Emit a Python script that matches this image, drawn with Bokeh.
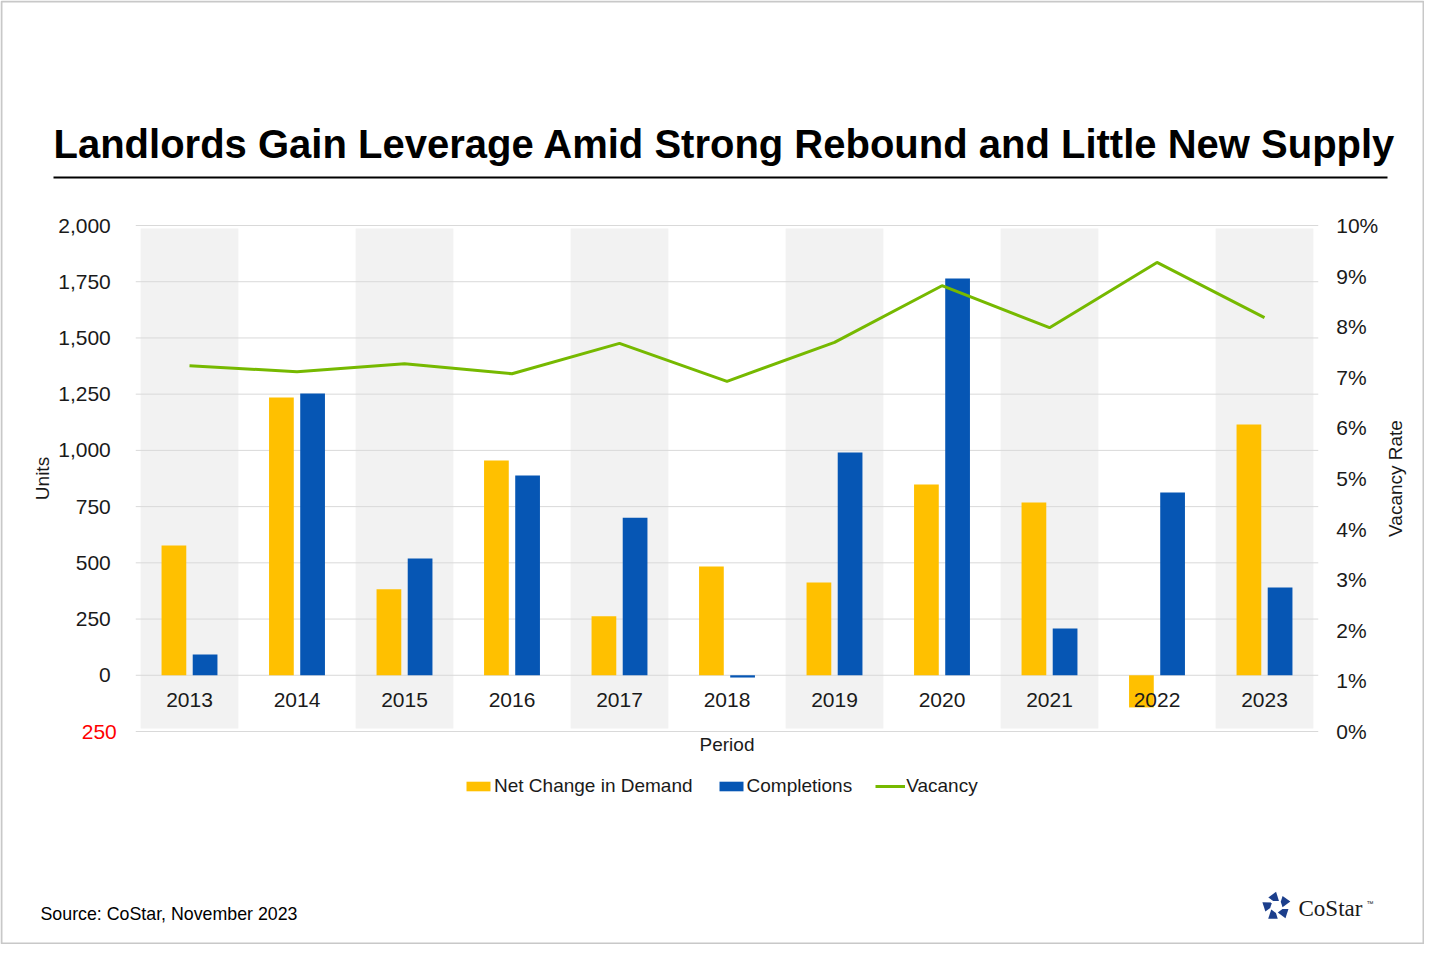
import math
from bokeh.plotting import figure
from bokeh.models import Range1d, Legend, LegendItem
from bokeh.transform import dodge
from bokeh.core.properties import value
from bokeh.embed import file_html
from bokeh.resources import INLINE

# ---------------- data ----------------
years = ["2013", "2014", "2015", "2016", "2017", "2018", "2019", "2020", "2021", "2022", "2023"]
net_demand = [577, 1235, 382, 955, 262, 484, 412, 848, 768, -143, 1115]
completions = [92, 1253, 519, 888, 701, -10, 991, 1764, 208, 813, 390]
vacancy = [7.23, 7.11, 7.27, 7.07, 7.67, 6.92, 7.69, 8.81, 7.98, 9.27, 8.18]
units_ticks = [-250, 0, 250, 500, 750, 1000, 1250, 1500, 1750, 2000]
units_tick_labels = ["250", "0", "250", "500", "750", "1,000", "1,250", "1,500", "1,750", "2,000"]
units_tick_colors = ["#ff0000"] + ["#1a1a1a"] * 9
rate_ticks = [0, 1, 2, 3, 4, 5, 6, 7, 8, 9, 10]
rate_tick_labels = ["0%", "1%", "2%", "3%", "4%", "5%", "6%", "7%", "8%", "9%", "10%"]

title_text = "Landlords Gain Leverage Amid Strong Rebound and Little New Supply"
source_text = "Source: CoStar, November 2023"
logo_text = "CoStar"
x_title, y_title, y2_title = "Period", "Units", "Vacancy Rate"

FONT = "Liberation Sans"
YELLOW = "#FFC000"
BLUE = "#0656B4"
GREEN = "#76B900"
TXT = "#1a1a1a"

# ---------------- layout (page pixels) ----------------
W, H = 1424, 944
PL, PR, PT, PB = 135.25, 1317.75, 225, 731      # chart box
U_LO, U_HI = -250, 2000
V_LO, V_HI = 0, 10
n = len(years)
cat_w = (PR - PL) / n
upp = (U_HI - U_LO) / (PB - PT)        # units per pixel
vpp = (V_HI - V_LO) / (PB - PT)

p = figure(width=W, height=H, x_range=Range1d(0, W), y_range=Range1d(H, 0),
           output_backend="svg", toolbar_location=None, min_border=0,
           x_axis_location=None, y_axis_location=None, title=None)
p.outline_line_color = None
p.grid.visible = False
p.background_fill_color = "white"
p.border_fill_color = "white"

# chart scales mapped onto the chart box
p.extra_x_ranges = {"cat": Range1d(-(PL / cat_w) - 0.5, (W - PL) / cat_w - 0.5)}
p.extra_y_ranges = {
    "units": Range1d(U_LO - (H - PB) * upp, U_HI + PT * upp),
    "vac": Range1d(V_LO - (H - PB) * vpp, V_HI + PT * vpp),
}
pos = list(range(n))
shaded_pos = pos[0::2]

# alternating shaded columns
p.vbar(x=shaded_pos, top=U_HI - 3 * upp, bottom=U_LO + 3 * upp, width=0.91,
       x_range_name="cat", y_range_name="units", fill_color="#f2f2f2", line_color=None)

# horizontal grid lines
p.segment(x0=-0.5, x1=n - 0.5, y0=units_ticks, y1=units_ticks, x_range_name="cat",
          y_range_name="units", line_color="#d9d9d9", line_width=1)

r_dem = p.vbar(x=dodge("x", -0.145), top="top", width=0.23, source=dict(x=pos, top=net_demand),
               x_range_name="cat", y_range_name="units", fill_color=YELLOW, line_color=None)
r_comp = p.vbar(x=dodge("x", 0.145), top="top", width=0.23, source=dict(x=pos, top=completions),
                x_range_name="cat", y_range_name="units", fill_color=BLUE, line_color=None)
r_vac = p.line(x=pos, y=vacancy, x_range_name="cat", y_range_name="vac",
               line_color=GREEN, line_width=3)

# category labels just under the zero line
p.text(x=pos, y=-108, text=years, x_range_name="cat", y_range_name="units",
       text_align="center", text_baseline="middle", text_font=value(FONT),
       text_font_size="21px", text_color=TXT)

# left tick labels
p.text(x=[PL - 25] * len(units_ticks), y=units_ticks, text=units_tick_labels,
       y_range_name="units", text_align="right", text_baseline="middle",
       text_font=value(FONT), text_font_size="21px", text_color=units_tick_colors,
       x_offset=[6] + [0] * (len(units_ticks) - 1))
# right tick labels
p.text(x=[PR + 18] * len(rate_ticks), y=rate_ticks, text=rate_tick_labels,
       y_range_name="vac", text_align="left", text_baseline="middle",
       text_font=value(FONT), text_font_size="21px", text_color=TXT)

# axis titles
p.text(x=[42], y=[478], text=[y_title], angle=math.pi / 2, text_align="center",
       text_baseline="middle", text_font=value(FONT), text_font_size="19px", text_color=TXT)
p.text(x=[1395], y=[478], text=[y2_title], angle=math.pi / 2, text_align="center",
       text_baseline="middle", text_font=value(FONT), text_font_size="19px", text_color=TXT)
p.text(x=[(PL + PR) / 2], y=[744], text=[x_title], text_align="center",
       text_baseline="middle", text_font=value(FONT), text_font_size="19px", text_color=TXT)

# legend
legend = Legend(items=[LegendItem(label="Net Change in Demand", renderers=[r_dem]),
                       LegendItem(label="Completions", renderers=[r_comp]),
                       LegendItem(label="Vacancy", renderers=[r_vac])],
                orientation="horizontal", location=(463, H - 797),
                glyph_width=30, glyph_height=12, label_standoff=1, spacing=23,
                padding=0, margin=0, border_line_color=None, background_fill_alpha=0,
                label_height=20,
                label_text_font=FONT, label_text_font_size="19px", label_text_color=TXT)
p.add_layout(legend, "center")

# title + rule
p.text(x=[53], y=[143], text=[title_text], text_align="left", text_baseline="middle",
       text_font=value(FONT), text_font_size="40px", text_font_style="bold", text_color="black")
p.segment(x0=[53], y0=[177], x1=[1387], y1=[177], line_color="black", line_width=2)

# source
p.text(x=[40], y=[913], text=[source_text], text_align="left", text_baseline="middle",
       text_font=value(FONT), text_font_size="17.8px", text_color="black")

# CoStar logo
p.text(x=[1298], y=[908], text=[logo_text], text_align="left", text_baseline="middle",
       text_font=value("Liberation Serif"), text_font_size="23px", text_color=TXT)
p.text(x=[1366], y=[903], text=["\u2122"], text_align="left", text_baseline="middle",
       text_font=value(FONT), text_font_size="7px", text_color=TXT)
cx, cy, R, r = 1276, 906, 16, 6
xs, ys = [], []
for k in range(5):
    a0 = math.radians(90 + 72 * k)
    a1 = math.radians(90 + 72 * (k + 1))
    V0 = (cx + R * math.cos(a0), cy - R * math.sin(a0))
    V1 = (cx + R * math.cos(a1), cy - R * math.sin(a1))
    P = (V0[0] + 0.62 * (V1[0] - V0[0]), V0[1] + 0.62 * (V1[1] - V0[1]))
    w0 = math.radians(90 + 72 * k + 36)
    w1 = math.radians(90 + 72 * k - 36)
    W0 = (cx + r * math.cos(w0), cy - r * math.sin(w0))
    W1 = (cx + r * math.cos(w1), cy - r * math.sin(w1))
    pts = [V0, P, W0, W1]
    mx = sum(q[0] for q in pts) / 4
    my = sum(q[1] for q in pts) / 4
    pts = [(mx + 0.82 * (q[0] - mx), my + 0.82 * (q[1] - my)) for q in pts]
    xs.append([q[0] for q in pts])
    ys.append([q[1] for q in pts])
p.patches(xs=xs, ys=ys, fill_color="#1c3f8c", line_color=None)

# thin outer frame
p.rect(x=[W / 2], y=[H / 2], width=W - 2, height=H - 2, fill_color=None,
       line_color="#c8c8c8", line_width=2)

open("out.html", "w").write(file_html(p, INLINE))
